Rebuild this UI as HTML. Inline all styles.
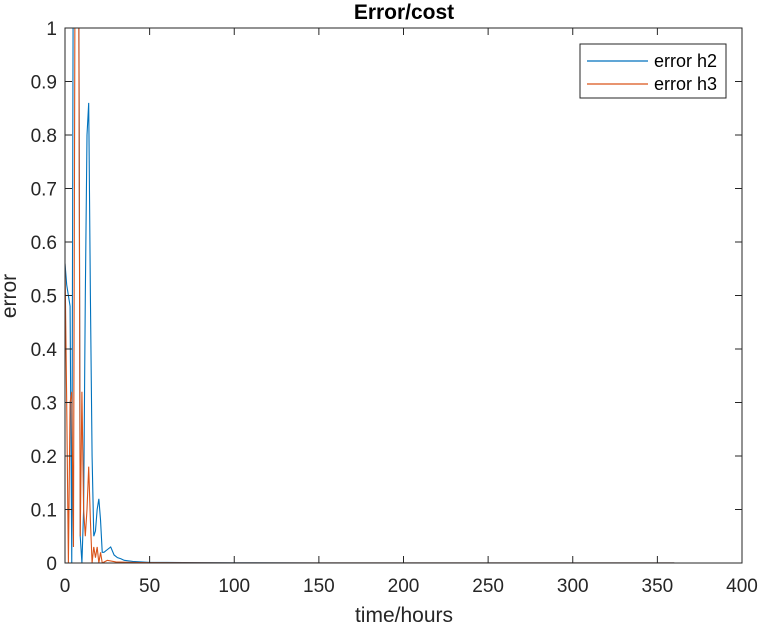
<!DOCTYPE html>
<html><head><meta charset="utf-8"><style>
body{margin:0;background:#fff;}
svg{display:block;font-family:"Liberation Sans",sans-serif;}
</style></head><body>
<svg id="chart" width="762" height="626">
<defs><clipPath id="clip"><rect x="65" y="28" width="677" height="535"/></clipPath></defs>
<rect x="0" y="0" width="762" height="626" fill="#fff"/>
<rect x="65" y="28" width="677" height="535" fill="#fff"/>
<g id="series" clip-path="url(#clip)"></g>
<rect x="65" y="28" width="677" height="535" fill="none" stroke="#262626" stroke-width="1"/>
<g id="ticks"></g>
<text x="404" y="19" text-anchor="middle" font-size="21" font-weight="bold" fill="#000">Error/cost</text>
<text x="404" y="622" text-anchor="middle" font-size="21" fill="#262626">time/hours</text>
<text transform="translate(16,296) rotate(-90)" text-anchor="middle" font-size="21" fill="#262626">error</text>
<g>
<rect x="580" y="44" width="146" height="54" fill="#fff" stroke="#262626" stroke-width="1"/>
<line x1="587" y1="61" x2="648" y2="61" stroke="#0072BD" stroke-width="1.2"/>
<text x="654" y="67" font-size="18" fill="#000">error h2</text>
<line x1="587" y1="84" x2="648" y2="84" stroke="#D95319" stroke-width="1.2"/>
<text x="654" y="90" font-size="18" fill="#000">error h3</text>
</g>
</svg>
<script>
const h2Times=[0,1,2,3,4,5,6,7,8,9,10,11,12,13,14,15,16,17,18,19,20,21,22,23,25,27,29,31,33,35,40,45,50,60,80,100,150,200,250,300,360];
const h2Values=[0.56,0.52,0.5,0.48,0.0,1.3,1.5,1.4,1.3,0.05,0.0,0.1,0.5,0.8,0.86,0.5,0.2,0.05,0.06,0.1,0.12,0.08,0.02,0.02,0.025,0.03,0.015,0.01,0.008,0.005,0.003,0.002,0.001,0.001,0.0005,0.0003,0.0002,0.0001,0.0001,0.0001,0.0001];
const h3Times=[0,1,2,3,4,5,6,7,8,9,10,11,12,13,14,15,16,17,18,19,20,21,22,25,30,40,50,100,200,300,360];
const h3Values=[0.56,0.3,0.0,0.3,0.32,0.03,1.2,1.4,1.2,0.05,0.32,0.1,0.05,0.1,0.18,0.08,0.0,0.03,0.01,0.03,0.0,0.02,0.0,0.005,0.002,0.001,0.0005,0.0002,0.0001,0.0001,0.0001];
const xTicks=[0,50,100,150,200,250,300,350,400];
const yTicks=[0,0.1,0.2,0.3,0.4,0.5,0.6,0.7,0.8,0.9,1];
const yTickLabels=["0","0.1","0.2","0.3","0.4","0.5","0.6","0.7","0.8","0.9","1"];
const NS="http://www.w3.org/2000/svg";
const X0=65,X1=742,Y0=563,Y1=28;
function xs(t){return X0+(t-0)/(400-0)*(X1-X0);}
function ys(v){return Y0-(v-0)/(1-0)*(Y0-Y1);}
const series=document.getElementById('series');
function drawLine(ts,vs,color,name){
  const p=document.createElementNS(NS,'polyline');
  p.setAttribute('points',ts.map((t,i)=>xs(t).toFixed(2)+','+ys(vs[i]).toFixed(2)).join(' '));
  p.setAttribute('fill','none');p.setAttribute('stroke',color);p.setAttribute('stroke-width','1.1');
  
  
  series.appendChild(p);
}
drawLine(h2Times,h2Values,'#0072BD','series-error-h2');
drawLine(h3Times,h3Values,'#D95319','series-error-h3');
const ticks=document.getElementById('ticks');
function mk(tag,attrs){const e=document.createElementNS(NS,tag);for(const k in attrs)e.setAttribute(k,attrs[k]);ticks.appendChild(e);return e;}
xTicks.forEach(t=>{
  const x=xs(t);
  const a=mk('line',{x1:x,y1:Y0,x2:x,y2:Y0-7,stroke:'#262626'});
  
  
  const b=mk('line',{x1:x,y1:Y1,x2:x,y2:Y1+7,stroke:'#262626'});
  
  
  const l=mk('text',{x:x,y:Y0+29,'text-anchor':'middle','font-size':'19',fill:'#262626'});
  l.textContent=String(t);
  
  
});
yTicks.forEach((v,i)=>{
  const y=ys(v);
  const a=mk('line',{x1:X0,y1:y,x2:X0+7,y2:y,stroke:'#262626'});
  
  
  const b=mk('line',{x1:X1,y1:y,x2:X1-7,y2:y,stroke:'#262626'});
  
  
  const l=mk('text',{x:X0-8,y:y+7,'text-anchor':'end','font-size':'19',fill:'#262626'});
  l.textContent=yTickLabels[i];
  
  
});
</script>
</body></html>
